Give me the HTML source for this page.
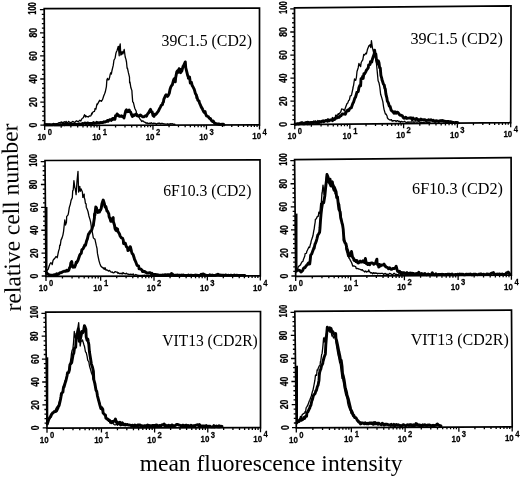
<!DOCTYPE html>
<html><head><meta charset="utf-8"><style>html,body{margin:0;padding:0;background:#fff;width:520px;height:477px;overflow:hidden}svg{display:block;will-change:transform}.s{font-family:"Liberation Sans",sans-serif}.r{font-family:"Liberation Serif",serif}</style></head><body>
<svg width="520" height="477" viewBox="0 0 520 477">
<rect width="520" height="477" fill="#fff"/>
<path d="M44.2 8.6L259.5 8.2L259.5 124.8L44.7 125.5Z" fill="none" stroke="#000" stroke-width="1.7" stroke-linejoin="miter"/>
<path d="M44.7 125.2h-4.3M44.68 120.58h-2.4M44.66 115.96h-2.4M44.64 111.34h-2.4M44.62 106.72h-2.4M44.6 102.1h-4.3M44.58 97.48h-2.4M44.56 92.86h-2.4M44.54 88.24h-2.4M44.52 83.62h-2.4M44.5 79h-4.3M44.48 74.38h-2.4M44.46 69.76h-2.4M44.44 65.14h-2.4M44.42 60.52h-2.4M44.4 55.9h-4.3M44.38 51.28h-2.4M44.36 46.66h-2.4M44.34 42.04h-2.4M44.32 37.42h-2.4M44.3 32.8h-4.3M44.28 28.18h-2.4M44.26 23.56h-2.4M44.24 18.94h-2.4M44.22 14.32h-2.4M44.2 9.7h-4.3M44.7 125.5v4.6M61.19 125.45v2.2M70.83 125.41v2.2M77.68 125.39v2.2M82.99 125.38v2.2M87.32 125.36v2.2M90.99 125.35v2.2M94.17 125.34v2.2M96.97 125.33v2.2M99.47 125.32v4.6M115.57 125.27v2.2M124.99 125.24v2.2M131.68 125.22v2.2M136.86 125.2v2.2M141.09 125.19v2.2M144.67 125.17v2.2M147.78 125.16v2.2M150.51 125.16v2.2M152.96 125.15v4.6M169.06 125.09v2.2M178.48 125.06v2.2M185.16 125.04v2.2M190.34 125.03v2.2M194.58 125.01v2.2M198.16 125v2.2M201.26 124.99v2.2M204 124.98v2.2M206.44 124.97v4.6M222.42 124.92v2.2M231.76 124.89v2.2M238.39 124.87v2.2M243.53 124.85v2.2M247.73 124.84v2.2M251.28 124.83v2.2M254.36 124.82v2.2M257.07 124.81v2.2M259.5 124.8v4.6" stroke="#000" stroke-width="1.3" fill="none"/>
<text transform="translate(33.1 125.2) rotate(-90) scale(0.8 1)" x="0" y="3.87" class="s" font-size="10.8" font-weight="bold" stroke="#000" stroke-width="0.25" text-anchor="middle">0</text>
<text transform="translate(33 102.1) rotate(-90) scale(0.8 1)" x="0" y="3.87" class="s" font-size="10.8" font-weight="bold" stroke="#000" stroke-width="0.25" text-anchor="middle">20</text>
<text transform="translate(32.9 79) rotate(-90) scale(0.8 1)" x="0" y="3.87" class="s" font-size="10.8" font-weight="bold" stroke="#000" stroke-width="0.25" text-anchor="middle">40</text>
<text transform="translate(32.8 55.9) rotate(-90) scale(0.8 1)" x="0" y="3.87" class="s" font-size="10.8" font-weight="bold" stroke="#000" stroke-width="0.25" text-anchor="middle">60</text>
<text transform="translate(32.7 32.8) rotate(-90) scale(0.8 1)" x="0" y="3.87" class="s" font-size="10.8" font-weight="bold" stroke="#000" stroke-width="0.25" text-anchor="middle">80</text>
<text transform="translate(32.6 8.5) rotate(-90) scale(0.7 1)" x="0" y="3.87" class="s" font-size="10.8" font-weight="bold" stroke="#000" stroke-width="0.25" text-anchor="middle">100</text>
<text transform="translate(46.3 140.1) scale(0.84 1)" class="s" font-size="9.5" font-weight="bold" stroke="#000" stroke-width="0.25" text-anchor="end">10</text>
<text transform="translate(47.7 135.2) scale(0.84 1)" class="s" font-size="9.1" font-weight="bold" stroke="#000" stroke-width="0.25">0</text>
<text transform="translate(101.07 139.92) scale(0.84 1)" class="s" font-size="9.5" font-weight="bold" stroke="#000" stroke-width="0.25" text-anchor="end">10</text>
<text transform="translate(102.87 135.02) scale(0.84 1)" class="s" font-size="9.1" font-weight="bold" stroke="#000" stroke-width="0.25">1</text>
<text transform="translate(154.56 139.75) scale(0.84 1)" class="s" font-size="9.5" font-weight="bold" stroke="#000" stroke-width="0.25" text-anchor="end">10</text>
<text transform="translate(155.96 134.85) scale(0.84 1)" class="s" font-size="9.1" font-weight="bold" stroke="#000" stroke-width="0.25">2</text>
<text transform="translate(208.04 139.57) scale(0.84 1)" class="s" font-size="9.5" font-weight="bold" stroke="#000" stroke-width="0.25" text-anchor="end">10</text>
<text transform="translate(209.44 134.67) scale(0.84 1)" class="s" font-size="9.1" font-weight="bold" stroke="#000" stroke-width="0.25">3</text>
<text transform="translate(261.1 139.4) scale(0.84 1)" class="s" font-size="9.5" font-weight="bold" stroke="#000" stroke-width="0.25" text-anchor="end">10</text>
<text transform="translate(262.5 134.5) scale(0.84 1)" class="s" font-size="9.1" font-weight="bold" stroke="#000" stroke-width="0.25">4</text>
<path d="M45 124.3 45.85 123.86 46.7 124 47.55 123.97 48.4 124.37 49.25 124.16 50.1 124.3 50.95 124.57 51.8 124.57 52.65 124.41 53.5 124.04 54.35 123.91 55 124.2 56.05 123.61 56.9 123.6 57.75 123.52 58.6 122.89 59.45 122.59 60.3 123.09 61.15 121.92 62 122.44 63 122.3 63.51 122.52 64.41 121.68 65.41 122.62 66.1 121.39 66.98 122.79 67.71 122.57 68.63 121.35 69.4 122.11 70 122.2 70.42 122.99 71.59 122.21 72.09 121.83 73.02 121.46 73.95 122.08 74.84 122.36 75.7 121.6 76.26 120.73 77.64 121.33 78.39 121.62 78.97 120.98 79.9 120.14 80.8 121 81.39 119.76 82.1 118.48 83.3 117.8 84.37 115.02 84.6 114.7 85.18 116.16 85.5 117 85.81 115.69 86.44 116.5 87.8 116.6 88.19 116.99 89.32 115.89 90 116.2 90.92 115.78 91.76 113.22 92.2 114 92.37 112.59 93.55 111.69 94.39 111.44 94.8 110.2 94.93 108.75 95.9 109.19 97 103.83 97.3 104.5 97.38 104.57 98.37 102.62 99.6 100.29 99.8 100.7 99.91 101.02 101.02 100.58 101.5 101.3 101.76 100.71 102.55 99.58 103.6 96.3 104.5 94.1 105.27 92.07 106.4 86.6 106.88 79.8 107.6 78.4 107.86 79.95 108.96 79.59 109.5 77.8 110.23 74.12 110.8 72.7 111.33 74.03 112 70.47 113.3 65.2 113.93 60.24 115.02 58.22 115.2 57.6 115.8 53.9 116.31 51.95 117 50.7 118.3 46.3 119.2 55.8 119.53 47.09 120.2 43.8 120.8 55 121.77 54.47 122.1 51.4 123 53.8 124.2 49.5 125.2 57 125.91 59.11 126.5 62 127.1 68.3 127.41 67.9 128.4 72.7 129.49 77.09 129.6 82.8 129.95 81.85 130.9 87.8 131.9 90.62 132.1 94.1 132.7 101.9 133.41 102.59 134.54 107.35 135 108.8 136.21 111.27 136.47 112.99 137.9 115.2 138.48 115.57 139.01 117.28 140.4 119.76 140.8 119.8 141.69 121.47 142.48 120.84 143.73 121.38 144.2 122.1 145.3 122.27 146.15 123.33 147 122.67 147.85 123.52 148.8 123.3 149.55 123.22 150.4 123.36 151.25 122.75 152.1 123.46 152.95 123.73 153.8 123.05 154.65 123.33 155.5 123.28 156.35 124.42 156.9 123.8 157.2 123.34 158.05 123.46 158.9 123.21 159.75 123.24 160.6 123.89 161.45 123.34 162.3 123.31 163.15 123.76 164 123.93 165 124 165.7 124.04 166.55 124.1 167.4 123.77 168.25 124.5 169.1 123.84 169.95 124.23 170.8 123.64 171.65 123.9 172.5 123.66 173.35 124.25 174.2 124.06 175 124.3" fill="none" stroke="#000" stroke-width="1.3" stroke-linejoin="round" stroke-linecap="round"/>
<path d="M45 124.8 45.85 124.81 46.7 124.89 47.55 124.89 48.4 124.64 49.25 124.71 50.1 124.63 50.95 124.88 51.8 124.78 52.65 124.87 53.5 124.3 54.35 124.87 55.2 124.77 56.05 124.86 56.9 124.76 57.75 124.68 58.6 124.85 59.45 124.85 60 124.8 60.3 124.73 61.15 124.71 62 124.84 62.85 124.42 63.7 124.17 64.55 124.76 65.4 124.38 66.25 124.04 67.1 124.27 67.95 124.35 68.8 124.07 69.65 123.93 70.5 124.43 71.35 124.7 72.2 124.27 73.05 124.06 73.9 124.43 74.75 124.52 75.6 124.12 76.45 124.4 77.3 124.56 78.15 124.06 79 123.8 79.85 124.21 80.7 124.14 81.55 124.44 82 124 82.4 123.45 83.25 123.58 84.1 123.4 84.95 122.97 85.8 123.58 86.65 123.65 87.5 122.99 88.4 123.2 89.2 123.81 90.05 123.56 90.9 123.48 91.75 123.38 92.6 123.62 93.45 122.61 94.3 123.47 95 123.2 96 123.37 96.85 122.29 97.7 123.09 98.55 122.73 99.4 123.13 100.25 122.47 101 122.6 101.95 122.47 102.8 122.54 103.72 121.83 104.17 122.11 105 122.1 105.13 121.59 105.86 121.62 107.21 121.07 107.5 120.4 108.15 121.24 108.62 120.58 109.6 119.8 110.78 119.63 111.19 120.37 112.02 119.83 112.68 118.34 113.78 118.41 114.2 119.2 114.94 119.33 115.58 115.61 116.53 115.81 117.1 114 118.4 115.33 119.04 116.08 119.4 116.3 119.76 116.05 120.93 116.3 121.5 115.8 122.02 116.48 122.96 116.38 124 118 124.65 115.28 125.8 110.6 126.5 109.82 127.5 111.7 128.56 111.38 129.2 110 129.76 111.66 130.56 112.08 131.5 114.6 132.36 116.4 133.13 115.09 133.8 115.8 134.35 114.8 135.2 114.5 136.1 114 136.54 115.43 137.58 115.93 138.4 115.8 139.08 116.18 140.24 114.96 141.34 115.74 141.9 116.3 142.45 116.7 143.73 116.91 144.43 116.22 145.51 115.75 146.36 115.46 146.5 116.3 146.84 115.4 147.67 113.8 148.5 113 149.47 111.14 150.6 109.4 151.1 111.73 152.17 111.95 153.04 115.56 153.4 115.2 153.96 116.34 154.86 114.2 155.5 114.6 156.39 113.79 157.21 112.68 158.39 111.17 159.2 109.4 160 107.8 160.63 106.59 161.21 105.41 162.5 104.46 162.7 103.1 163.43 101.93 163.8 99.4 164.71 97.41 165.59 95.4 166.1 94.8 166.81 95.8 167.5 96.4 168.42 95.06 169.3 93.14 170 89.5 170.85 86.89 171.69 85.41 172.3 84.9 173.49 80.27 173.8 79.5 174.2 78.85 175.3 81.8 175.63 77.87 176.8 71.8 177.51 70.77 178.53 72.27 179.1 68.8 180.1 72.07 180.7 72.6 180.75 69.47 181.79 71.19 183 66.5 183.55 65.84 184.41 63.84 185.3 61.9 185.76 67.74 186.8 71.8 187.77 75.86 188.3 76.4 188.33 78.29 189.53 77.08 189.9 79.5 190.29 83.06 191.35 82.2 192.2 85.6 192.75 86.37 194.01 88.82 194.5 90.2 195.41 93.62 196.47 95.37 196.8 97.9 196.86 96.58 197.9 100.49 199 100.9 199.4 102.76 200.35 104.8 201.3 107.1 202.42 108.87 202.77 109.78 203.92 112.13 204.4 112.4 205.07 111.66 205.58 113.8 206.41 115.81 207.5 116.3 208.25 116.54 209.16 118.14 210.19 118.84 210.5 118.6 211.33 120.47 212.71 121.58 212.8 121.6 213.37 121.1 214.15 122.68 215 123.45 215.85 123.55 216.7 123.9 217.55 123.86 218.4 124.33 219.25 123.99 220 124.5 220.95 124.33 221.8 124.32 222.65 124.32 223.5 124.32 224 124.9" fill="none" stroke="#000" stroke-width="2.9" stroke-linejoin="round" stroke-linecap="round"/>
<text transform="translate(161.51 46.2) scale(0.942 1)" class="r" font-size="16.8">39C1.5 (CD2)</text>
<path d="M294.5 7.8L511 5.8L510.7 122.6L294.8 124.6Z" fill="none" stroke="#000" stroke-width="1.7" stroke-linejoin="miter"/>
<path d="M294.8 124.3h-4.3M294.79 119.68h-2.4M294.78 115.07h-2.4M294.76 110.45h-2.4M294.75 105.84h-2.4M294.74 101.22h-4.3M294.73 96.6h-2.4M294.72 91.99h-2.4M294.7 87.37h-2.4M294.69 82.76h-2.4M294.68 78.14h-4.3M294.67 73.52h-2.4M294.66 68.91h-2.4M294.64 64.29h-2.4M294.63 59.68h-2.4M294.62 55.06h-4.3M294.61 50.44h-2.4M294.6 45.83h-2.4M294.58 41.21h-2.4M294.57 36.6h-2.4M294.56 31.98h-4.3M294.55 27.36h-2.4M294.54 22.75h-2.4M294.52 18.13h-2.4M294.51 13.52h-2.4M294.5 8.9h-4.3M294.8 124.6v4.6M311.37 124.45v2.2M321.07 124.36v2.2M327.95 124.29v2.2M333.28 124.24v2.2M337.64 124.2v2.2M341.33 124.17v2.2M344.52 124.14v2.2M347.34 124.11v2.2M349.85 124.09v4.6M366.04 123.94v2.2M375.5 123.85v2.2M382.22 123.79v2.2M387.43 123.74v2.2M391.69 123.7v2.2M395.29 123.67v2.2M398.4 123.64v2.2M401.15 123.61v2.2M403.61 123.59v4.6M419.8 123.44v2.2M429.26 123.35v2.2M435.98 123.29v2.2M441.19 123.24v2.2M445.45 123.2v2.2M449.05 123.17v2.2M452.16 123.14v2.2M454.91 123.12v2.2M457.37 123.09v4.6M473.43 122.95v2.2M482.82 122.86v2.2M489.48 122.8v2.2M494.65 122.75v2.2M498.87 122.71v2.2M502.44 122.68v2.2M505.53 122.65v2.2M508.26 122.62v2.2M510.7 122.6v4.6" stroke="#000" stroke-width="1.3" fill="none"/>
<text transform="translate(283.2 124.3) rotate(-90) scale(0.8 1)" x="0" y="3.87" class="s" font-size="10.8" font-weight="bold" stroke="#000" stroke-width="0.25" text-anchor="middle">0</text>
<text transform="translate(283.14 101.22) rotate(-90) scale(0.8 1)" x="0" y="3.87" class="s" font-size="10.8" font-weight="bold" stroke="#000" stroke-width="0.25" text-anchor="middle">20</text>
<text transform="translate(283.08 78.14) rotate(-90) scale(0.8 1)" x="0" y="3.87" class="s" font-size="10.8" font-weight="bold" stroke="#000" stroke-width="0.25" text-anchor="middle">40</text>
<text transform="translate(283.02 55.06) rotate(-90) scale(0.8 1)" x="0" y="3.87" class="s" font-size="10.8" font-weight="bold" stroke="#000" stroke-width="0.25" text-anchor="middle">60</text>
<text transform="translate(282.96 31.98) rotate(-90) scale(0.8 1)" x="0" y="3.87" class="s" font-size="10.8" font-weight="bold" stroke="#000" stroke-width="0.25" text-anchor="middle">80</text>
<text transform="translate(282.9 7.7) rotate(-90) scale(0.7 1)" x="0" y="3.87" class="s" font-size="10.8" font-weight="bold" stroke="#000" stroke-width="0.25" text-anchor="middle">100</text>
<text transform="translate(296.4 139.2) scale(0.84 1)" class="s" font-size="9.5" font-weight="bold" stroke="#000" stroke-width="0.25" text-anchor="end">10</text>
<text transform="translate(297.8 134.3) scale(0.84 1)" class="s" font-size="9.1" font-weight="bold" stroke="#000" stroke-width="0.25">0</text>
<text transform="translate(351.45 138.69) scale(0.84 1)" class="s" font-size="9.5" font-weight="bold" stroke="#000" stroke-width="0.25" text-anchor="end">10</text>
<text transform="translate(353.25 133.79) scale(0.84 1)" class="s" font-size="9.1" font-weight="bold" stroke="#000" stroke-width="0.25">1</text>
<text transform="translate(405.21 138.19) scale(0.84 1)" class="s" font-size="9.5" font-weight="bold" stroke="#000" stroke-width="0.25" text-anchor="end">10</text>
<text transform="translate(406.61 133.29) scale(0.84 1)" class="s" font-size="9.1" font-weight="bold" stroke="#000" stroke-width="0.25">2</text>
<text transform="translate(458.97 137.69) scale(0.84 1)" class="s" font-size="9.5" font-weight="bold" stroke="#000" stroke-width="0.25" text-anchor="end">10</text>
<text transform="translate(460.37 132.79) scale(0.84 1)" class="s" font-size="9.1" font-weight="bold" stroke="#000" stroke-width="0.25">3</text>
<text transform="translate(512.3 137.2) scale(0.84 1)" class="s" font-size="9.5" font-weight="bold" stroke="#000" stroke-width="0.25" text-anchor="end">10</text>
<text transform="translate(513.7 132.3) scale(0.84 1)" class="s" font-size="9.1" font-weight="bold" stroke="#000" stroke-width="0.25">4</text>
<path d="M295 124 295.85 123.61 296.7 123.93 297.55 123.77 298.4 123.07 299.25 122.86 299.8 122.5 300.1 122.26 300.95 122.01 301.8 121.97 302.65 121.88 303.5 122.75 304.35 122.24 305.2 122.28 306.05 121.86 306.9 121.6 307.75 121.5 308.6 121.63 309.45 122.29 310.3 121.96 311.3 121.9 312 121.6 312.85 121.63 313.7 120.94 314.55 122.23 315.4 120.87 316.25 121.45 317.18 122.2 317.81 120.51 318.51 121.25 319.56 120.97 320.58 121.11 321.49 121.3 321.97 121.1 322.8 120.8 323.72 120.22 324.55 120.68 325.33 120.61 326.54 119.79 327.02 119.57 328 118.7 328.6 119.6 328.86 119.87 329.67 119.38 330.75 119.39 331.85 119.69 332.42 117.53 333.2 118.4 334 118.82 335.22 117.74 335.65 115.09 336.7 115.6 337.48 115.05 338.35 113.64 338.86 114.39 340.1 112.7 340.82 111.76 341.66 108.9 342.4 109.2 343.37 109.44 344.5 111 345.06 108.76 345.97 106.32 347 103.5 347.72 103.13 348.62 100.49 349.4 100 350.24 95.81 351.31 95.51 351.7 94.2 353.02 88.01 353.2 86.6 353.53 85.76 354.5 79 355.61 80.38 355.7 80.3 356.43 77.3 357 71.5 358.2 67.7 358.94 63.48 359.5 64.6 360.62 66.67 360.8 65.2 361.18 62.57 361.89 61.23 362.6 60.2 362.78 59.85 363.76 54.35 364.5 55.1 365.85 53.21 366.4 53.9 367.3 50.03 367.7 48.8 368.23 47.42 368.9 45.7 370.14 44.67 370.2 46.3 370.79 47.58 371.4 40.7 372.4 47.6 373.3 51.4 373.97 50.16 374.6 52.6 375.2 57.6 376.02 57.29 376.5 63.9 377.1 70.2 377.7 76.5 378.11 80.8 379 82.8 379.8 87 380.63 94.3 381.5 96.9 382.84 101.62 383.5 106.5 384.01 109.21 385.4 114.2 385.92 113.84 387.08 116.02 387.32 117.77 388.3 119 389.39 119.78 390.53 120 391.37 119.65 392.15 121.14 392.75 120.7 393.1 121 393.6 120.53 394.45 120.56 395.3 120.72 396.15 121.56 397 120.68 397.85 120.75 398.7 121.66 399.55 121.27 400.4 122.25 401.25 121.33 402.1 121.63 402.7 121.9 403.8 121.59 404.65 121.25 405.5 122.11 406.35 122.28 407.2 122.41 408.05 121.94 408.9 122.32 409.75 122 410.6 122.04 411.45 121.77 412.3 122.06 413.15 121.76 414 122.4 414.85 121.91 415.7 121.78 416.55 122.18 417.4 122.22 418.25 121.63 419.1 121.86 420 122.3 420.8 122.1 421.65 122.49 422.5 122.57 423.35 122.69 424.2 122.33 425.05 122.15 425.9 121.96 426.75 122.54 427.6 122.38 428.45 122.7 429.3 122.75 430 122.6" fill="none" stroke="#000" stroke-width="1.3" stroke-linejoin="round" stroke-linecap="round"/>
<path d="M295 124.3 295.85 123.99 296.7 123.98 297.55 123.61 298.4 123.97 299.25 123.92 300.1 123.6 300.95 123.52 301.8 123.35 302.65 123.56 303.5 123.85 304.35 123.7 305.2 123.64 306.05 122.76 306.9 122.69 307.75 123.78 308.6 123.49 309.45 123.67 310 123 310.3 123.45 311.15 122.48 312 123.32 312.85 122.97 313.7 122.72 314.55 122.2 315.4 122.46 316.25 122.31 317.1 122.68 317.95 122.26 318.8 122.83 319.65 121.68 320 122 320.5 122.12 321.35 121.98 322.2 121.17 323.05 120.85 323.94 121.78 324.54 121.03 325.7 120.6 326.11 120.47 327.59 121.16 328 120.5 329.06 120.82 330.07 120.08 330.79 120.06 331.65 119.89 332.55 120.64 333.31 119.06 334.4 119.6 335.24 118.31 335.46 118.63 336.54 117.55 337.55 117.75 338.03 116.74 339.12 117.3 340.1 116.1 341.08 115.64 341.6 114.79 342.55 113.84 343.63 114.07 344.51 113.8 345.35 114.3 345.9 112.7 346.59 111.39 347.58 110.12 348.68 110.83 349.47 109.01 350.5 108 351.33 107.86 352.29 104.88 352.8 103.5 353.51 102.33 354.79 98.09 355.5 97.25 356.4 94.1 356.89 92.34 358.25 91.62 358.9 87.8 359.78 85.42 360.62 85.73 360.8 82.8 361 78.71 362.2 78.47 362.6 76.5 363.13 78.43 363.92 73.61 364.5 74 365.74 71.88 366.4 70.2 367.31 69.11 368.3 67.7 368.64 64.9 369.89 64.59 370.2 63.9 370.43 61.63 371.76 62.02 372.1 60.2 373.3 56.4 374.18 54.07 374.6 50.1 375.07 53.36 375.8 53.9 376.5 60.2 377.7 64 378.32 60.83 379 62.7 379.6 67.7 380.3 68.11 380.9 75.3 381.84 78.74 382.1 80.3 382.46 80.97 383.4 84.1 384.3 85.18 384.7 87.8 385.31 89.19 385.9 94.1 386.91 98.16 387.31 101.02 388.3 102.7 389.29 106.19 390.11 106.38 391.2 110.4 391.57 110.65 393.06 111.84 393.67 112.74 394 113.3 394.78 112.68 395.1 111.86 396.02 113.26 396.9 112.3 397.68 112.32 398.39 113.08 399.49 114.68 400.06 115.2 400.8 115.2 401.52 115.49 402.39 115.8 402.99 117.15 404 118.2 404.6 118.1 405.72 117.18 406.09 118.22 406.87 118.46 408 118.1 408.82 118.16 410.1 117.77 410.68 118.33 411.58 117.96 412.24 119.66 413.16 117.94 413.87 119.15 414.89 119.32 415.55 119.49 416.33 118.5 417.11 119.13 418 119.6 419.22 120.26 419.78 119.85 420.78 119.07 421.48 119.85 422.84 119.66 423.19 120.03 424.48 119.66 424.93 119.61 425.78 120.26 426.41 120.46 427.7 120.4 428.45 119.68 429.3 120.4 430.15 120.28 431 119.77 431.85 120.26 432.7 120.82 433.55 120.36 434.4 121.35 435.25 121.48 436.1 120.62 437 120.8 437.8 121.11 438.65 121.65 439.5 120.83 440.35 120.63 441.2 120.91 442.05 120.55 442.9 120.63 443.75 121.36 444.6 121.16 445.45 121.49 446.3 121.65 447 121.5 448 121.34 448.85 121.69 449.7 121.79 450.55 121.77 451.4 121.84 452.25 122.37 453.1 122.34 453.95 122.53 454.6 122.6 455.65 122.51 456.5 122.5 457.35 122.47 458 122.8" fill="none" stroke="#000" stroke-width="2.9" stroke-linejoin="round" stroke-linecap="round"/>
<text transform="translate(410.44 43.6) scale(0.962 1)" class="r" font-size="16.8">39C1.5 (CD2)</text>
<path d="M45 160.5L260 159.8L260.3 275.9L46 276.3Z" fill="none" stroke="#000" stroke-width="1.7" stroke-linejoin="miter"/>
<path d="M46 276h-4.3M45.96 271.42h-2.4M45.92 266.85h-2.4M45.88 262.27h-2.4M45.84 257.7h-2.4M45.8 253.12h-4.3M45.76 248.54h-2.4M45.72 243.97h-2.4M45.68 239.39h-2.4M45.64 234.82h-2.4M45.6 230.24h-4.3M45.56 225.66h-2.4M45.52 221.09h-2.4M45.48 216.51h-2.4M45.44 211.94h-2.4M45.4 207.36h-4.3M45.36 202.78h-2.4M45.32 198.21h-2.4M45.28 193.63h-2.4M45.24 189.06h-2.4M45.2 184.48h-4.3M45.16 179.9h-2.4M45.12 175.33h-2.4M45.08 170.75h-2.4M45.04 166.18h-2.4M45 161.6h-4.3M46 276.3v4.6M62.45 276.27v2.2M72.07 276.25v2.2M78.9 276.24v2.2M84.2 276.23v2.2M88.52 276.22v2.2M92.18 276.21v2.2M95.35 276.21v2.2M98.15 276.2v2.2M100.65 276.2v4.6M116.71 276.17v2.2M126.11 276.15v2.2M132.77 276.14v2.2M137.94 276.13v2.2M142.17 276.12v2.2M145.74 276.11v2.2M148.84 276.11v2.2M151.57 276.1v2.2M154.01 276.1v4.6M170.07 276.07v2.2M179.47 276.05v2.2M186.13 276.04v2.2M191.3 276.03v2.2M195.53 276.02v2.2M199.1 276.01v2.2M202.2 276.01v2.2M204.93 276v2.2M207.37 276v4.6M223.3 275.97v2.2M232.62 275.95v2.2M239.24 275.94v2.2M244.37 275.93v2.2M248.56 275.92v2.2M252.1 275.92v2.2M255.17 275.91v2.2M257.88 275.9v2.2M260.3 275.9v4.6" stroke="#000" stroke-width="1.3" fill="none"/>
<text transform="translate(34.4 276) rotate(-90) scale(0.8 1)" x="0" y="3.87" class="s" font-size="10.8" font-weight="bold" stroke="#000" stroke-width="0.25" text-anchor="middle">0</text>
<text transform="translate(34.2 253.12) rotate(-90) scale(0.8 1)" x="0" y="3.87" class="s" font-size="10.8" font-weight="bold" stroke="#000" stroke-width="0.25" text-anchor="middle">20</text>
<text transform="translate(34 230.24) rotate(-90) scale(0.8 1)" x="0" y="3.87" class="s" font-size="10.8" font-weight="bold" stroke="#000" stroke-width="0.25" text-anchor="middle">40</text>
<text transform="translate(33.8 207.36) rotate(-90) scale(0.8 1)" x="0" y="3.87" class="s" font-size="10.8" font-weight="bold" stroke="#000" stroke-width="0.25" text-anchor="middle">60</text>
<text transform="translate(33.6 184.48) rotate(-90) scale(0.8 1)" x="0" y="3.87" class="s" font-size="10.8" font-weight="bold" stroke="#000" stroke-width="0.25" text-anchor="middle">80</text>
<text transform="translate(33.4 160.4) rotate(-90) scale(0.7 1)" x="0" y="3.87" class="s" font-size="10.8" font-weight="bold" stroke="#000" stroke-width="0.25" text-anchor="middle">100</text>
<text transform="translate(47.6 290.9) scale(0.84 1)" class="s" font-size="9.5" font-weight="bold" stroke="#000" stroke-width="0.25" text-anchor="end">10</text>
<text transform="translate(49 286) scale(0.84 1)" class="s" font-size="9.1" font-weight="bold" stroke="#000" stroke-width="0.25">0</text>
<text transform="translate(102.25 290.8) scale(0.84 1)" class="s" font-size="9.5" font-weight="bold" stroke="#000" stroke-width="0.25" text-anchor="end">10</text>
<text transform="translate(104.05 285.9) scale(0.84 1)" class="s" font-size="9.1" font-weight="bold" stroke="#000" stroke-width="0.25">1</text>
<text transform="translate(155.61 290.7) scale(0.84 1)" class="s" font-size="9.5" font-weight="bold" stroke="#000" stroke-width="0.25" text-anchor="end">10</text>
<text transform="translate(157.01 285.8) scale(0.84 1)" class="s" font-size="9.1" font-weight="bold" stroke="#000" stroke-width="0.25">2</text>
<text transform="translate(208.97 290.6) scale(0.84 1)" class="s" font-size="9.5" font-weight="bold" stroke="#000" stroke-width="0.25" text-anchor="end">10</text>
<text transform="translate(210.37 285.7) scale(0.84 1)" class="s" font-size="9.1" font-weight="bold" stroke="#000" stroke-width="0.25">3</text>
<text transform="translate(261.9 290.5) scale(0.84 1)" class="s" font-size="9.5" font-weight="bold" stroke="#000" stroke-width="0.25" text-anchor="end">10</text>
<text transform="translate(263.3 285.6) scale(0.84 1)" class="s" font-size="9.1" font-weight="bold" stroke="#000" stroke-width="0.25">4</text>
<path d="M46.5 272 47.1 270.3 48.15 269.33 49 266.5 49.96 263.88 50.9 262.8 51.86 263.56 52.2 264.7 53.03 260.46 54.1 259 55.06 257.95 56 256.5 56.8 257.2 57.2 257.7 57.47 256.56 58.5 251.4 59.44 248.39 59.7 245.2 60.27 245.37 61 240.1 62.07 237.86 62.9 235.1 63.57 231.37 64.1 226.3 64.8 220 65.5 225 66.38 222.6 66.6 219.1 66.64 216.6 68.05 214.87 68.5 212.8 69.32 207.36 70.4 204 71.07 200.36 72.3 197.7 72.71 190.62 73.2 190.2 73.9 180.7 74.8 187.6 75.23 188.48 76.1 194.6 77 181.4 78 171.3 78.6 192 79.8 186.4 80.26 191.3 81.1 188.9 82.4 192 82.82 197.38 84.18 194.1 84.3 197.7 84.87 199.45 85.36 203.04 86.1 204 86.28 207.15 87.51 210.11 88 211.5 88.92 215.97 89.9 219.1 90.66 222.08 91.2 226 91.5 228.9 92.4 232.6 93.35 237.91 94.3 238.9 94.92 239.19 95.68 242.68 96.2 245.2 97 248.41 97.47 253.4 98.1 256.5 99.08 261.07 100 264 100.81 266.02 101.9 267.2 102.56 267.45 103.39 268.58 104 267.8 104.22 269.26 105.26 267.82 105.86 270.11 106.76 269.94 107.7 270.4 108.46 271.1 109.45 270.4 110.49 271.5 111.02 272.02 111.9 272.24 112.3 271.9 112.81 272.68 113.6 272.84 114.43 272.39 115.23 271.57 116.43 272.02 117.32 272.16 117.99 273.53 118.5 272.7 119.71 273.73 120.52 273.58 120.97 273.13 122.15 274.03 123 272.46 123.85 273.56 124.6 273.5 125.55 273.95 126.4 273.13 127.25 274.09 128.1 274.01 128.95 274.6 129.8 274.4 130.8 274.2 131.5 274.33 132.35 274.6 133.2 273.93 134.05 275.4 134.9 275 135.75 274.52 136.6 274.83 137.45 275.25 138.5 275.5 139.15 275.33 140 275.52 140.85 275.35 141.7 275.52 142.55 275.46 143.4 275.52 144.25 275.23 145.1 275.44 145.95 275.51 146.8 275.43 147.65 275.51 148.5 275.51 149.35 275.34 150 275.8 151.05 275.5 151.9 275.44 152.75 275.5 153.6 275.5 154.45 275.5 155.3 275.5 156.15 275.49 157 275.49 157.85 275.49 158.7 275.49 159.55 275.49 160.4 275.49 161.25 275.48 162.1 275.48 162.95 275.48 163.8 275.48 164.65 275.48 165 276" fill="none" stroke="#000" stroke-width="1.3" stroke-linejoin="round" stroke-linecap="round"/>
<path d="M46.5 207V272.8" fill="none" stroke="#000" stroke-width="2.0"/>
<path d="M46.5 272.8 47.5 274 48.2 274.21 49.05 274.93 49.9 275.5 50.3 275.5 50.75 275.08 51.6 275.5 52.45 275.14 53.3 275.17 54.1 274.7 55 274.6 55.85 274.78 56.7 273.66 57.55 274.61 58.4 274.24 59.1 273.5 59.9 272.69 60.67 272.81 61.66 272.48 62.9 271.6 63.74 271.38 64.36 271.17 65.27 271.38 66.4 271.06 66.65 270.35 67.9 271 68.73 270.31 69.58 267.78 70.4 266.5 70.83 262.9 71.7 261.5 72.09 263.75 72.9 267.2 73.82 267.13 74.62 267.14 75.4 265.3 76.17 262.29 76.78 262.61 78 260.3 78.51 258.71 79.85 254.82 80.5 254 81.25 253.22 81.87 249.7 83 248.9 84.08 246.78 84.84 244.92 85.5 245.2 86.54 241.08 87.4 238.9 88.27 235.03 88.7 233.8 89.24 233.55 89.79 232.23 90.5 231.3 91.68 230.13 92.4 227.5 93.34 225.45 93.7 222.5 94.44 217.8 94.5 214 94.89 215.2 95.78 206.95 96.3 207.6 96.46 208.29 97.62 212.07 98 212.5 98.22 211.74 99.46 212.05 99.74 210.27 100.5 210.2 101.21 208.49 101.9 204 102.86 201.01 103.2 200 104.4 203.8 104.96 206.73 105.7 207.6 105.81 206.32 106.98 211.07 107.6 211.4 108.8 213.9 109.1 216.69 110.1 218.9 110.8 221.26 112 221.4 112.78 217.94 113.2 217.6 113.31 221.33 114.5 225.2 115.01 228.54 115.8 230.2 116.26 228.25 116.76 230.83 117.6 229 117.82 231.2 118.6 232.42 119.5 234 120.12 236 121.4 237.8 122.44 238.04 123.3 240.3 123.58 243.53 124.84 243.88 125.2 244.1 125.3 243.24 126.35 246.58 127.34 247.52 127.7 249 127.92 250.54 129.23 249.73 130.08 247.34 130.2 246.6 130.53 247.25 131.61 251.93 132.1 253.5 133.09 254.51 134.34 258.51 134.6 259.6 134.93 260.02 135.95 262.38 136.9 265 137.25 265.62 138.63 265.86 139.07 268.81 140 268.8 140.84 269.15 142.02 270.1 142.48 271.52 143.49 271.29 144.26 271.49 144.6 271.9 145.04 271.78 146.29 272.71 146.51 272.93 147.68 272.84 148.83 273.08 149.2 272.7 150.2 272.8 151.05 273.68 151.9 273.22 152.75 274.93 153.8 274.8 154.45 274.46 155.3 274.34 156.15 274.68 157 274.73 157.85 275.05 158.7 275.06 159.55 275.49 160.4 275.17 161.5 275.3 162.1 275.34 162.95 274.92 163.8 275.39 164.65 274.93 165.5 274.61 166.35 275.48 167.2 274.73 168.05 274.69 168.9 274.73 170 275 170.6 274.89 171.45 273.48 172 273.8 172.3 273.84 173.15 274.83 174 275.2 174.85 275.46 175.7 275.13 176.55 275.26 177.4 274.98 178.25 275.45 179.1 275.25 179.95 275.29 180.8 275.37 181.65 275.05 182.5 275.35 183.35 274.97 184.2 275.44 185 275.4 185.9 275.35 186.75 275.34 187.6 275.44 188.45 275 189.3 275.43 190.15 275.43 191 275.12 191.85 275.43 192.7 275.32 193.55 275.42 194.4 275.35 195.25 275.05 196.1 275.42 196.95 275.25 197.8 275.37 198.65 275.42 199.5 275.41 200 275.3 200.35 275.36 201.2 274.25 202.05 274.69 203 274 203.75 274.2 204.6 275.1 205.45 274.99 206 275.3 206.3 275.4 207.15 275.4 208 275.32 208.85 275.4 209.7 274.84 210.55 275.39 211.4 275.39 212.25 275.03 213.1 275.39 213.95 275.39 215 275.4 215.65 275.26 216.5 274.76 217.35 274.77 218 274.2 219.05 274.89 219.9 274.93 221 275.3 221.6 275.29 222.45 275.17 223.3 275.14 224.15 275.37 225 275.17 225.85 274.92 226.7 275.36 227.55 275.36 228.4 275.3 229.25 275.36 230.1 275.36 230.95 275.1 231.8 275.35 232.65 275.35 233.5 275.35 234.35 274.97 235.2 275.35 236.05 275.35 236.9 275.2 237.75 275.34 238.6 275.34 239.45 275.34 240 275.5 240.3 275.34 241.15 275.34 242 275.33 242.85 275.33 243.7 275.33 244.55 275.33 245 275.8" fill="none" stroke="#000" stroke-width="2.9" stroke-linejoin="round" stroke-linecap="round"/>
<text transform="translate(163.22 195.8) scale(0.937 1)" class="r" font-size="16.8">6F10.3 (CD2)</text>
<path d="M294.6 159.6L511.1 157.6L511.4 275.1L295.7 276.3Z" fill="none" stroke="#000" stroke-width="1.7" stroke-linejoin="miter"/>
<path d="M295.7 276h-4.3M295.66 271.39h-2.4M295.61 266.78h-2.4M295.57 262.16h-2.4M295.52 257.55h-2.4M295.48 252.94h-4.3M295.44 248.33h-2.4M295.39 243.72h-2.4M295.35 239.1h-2.4M295.3 234.49h-2.4M295.26 229.88h-4.3M295.22 225.27h-2.4M295.17 220.66h-2.4M295.13 216.04h-2.4M295.08 211.43h-2.4M295.04 206.82h-4.3M295 202.21h-2.4M294.95 197.6h-2.4M294.91 192.98h-2.4M294.86 188.37h-2.4M294.82 183.76h-4.3M294.78 179.15h-2.4M294.73 174.54h-2.4M294.69 169.92h-2.4M294.64 165.31h-2.4M294.6 160.7h-4.3M295.7 276.3v4.6M312.26 276.21v2.2M321.94 276.15v2.2M328.82 276.12v2.2M334.15 276.09v2.2M338.5 276.06v2.2M342.18 276.04v2.2M345.37 276.02v2.2M348.19 276.01v2.2M350.7 275.99v4.6M366.87 275.9v2.2M376.33 275.85v2.2M383.04 275.81v2.2M388.24 275.79v2.2M392.5 275.76v2.2M396.09 275.74v2.2M399.21 275.72v2.2M401.96 275.71v2.2M404.41 275.7v4.6M420.58 275.61v2.2M430.04 275.55v2.2M436.75 275.52v2.2M441.95 275.49v2.2M446.21 275.46v2.2M449.8 275.44v2.2M452.92 275.43v2.2M455.66 275.41v2.2M458.12 275.4v4.6M474.16 275.31v2.2M483.54 275.25v2.2M490.2 275.22v2.2M495.36 275.19v2.2M499.58 275.17v2.2M503.15 275.15v2.2M506.24 275.13v2.2M508.96 275.11v2.2M511.4 275.1v4.6" stroke="#000" stroke-width="1.3" fill="none"/>
<text transform="translate(284.1 276) rotate(-90) scale(0.8 1)" x="0" y="3.87" class="s" font-size="10.8" font-weight="bold" stroke="#000" stroke-width="0.25" text-anchor="middle">0</text>
<text transform="translate(283.88 252.94) rotate(-90) scale(0.8 1)" x="0" y="3.87" class="s" font-size="10.8" font-weight="bold" stroke="#000" stroke-width="0.25" text-anchor="middle">20</text>
<text transform="translate(283.66 229.88) rotate(-90) scale(0.8 1)" x="0" y="3.87" class="s" font-size="10.8" font-weight="bold" stroke="#000" stroke-width="0.25" text-anchor="middle">40</text>
<text transform="translate(283.44 206.82) rotate(-90) scale(0.8 1)" x="0" y="3.87" class="s" font-size="10.8" font-weight="bold" stroke="#000" stroke-width="0.25" text-anchor="middle">60</text>
<text transform="translate(283.22 183.76) rotate(-90) scale(0.8 1)" x="0" y="3.87" class="s" font-size="10.8" font-weight="bold" stroke="#000" stroke-width="0.25" text-anchor="middle">80</text>
<text transform="translate(283 159.5) rotate(-90) scale(0.7 1)" x="0" y="3.87" class="s" font-size="10.8" font-weight="bold" stroke="#000" stroke-width="0.25" text-anchor="middle">100</text>
<text transform="translate(297.3 290.9) scale(0.84 1)" class="s" font-size="9.5" font-weight="bold" stroke="#000" stroke-width="0.25" text-anchor="end">10</text>
<text transform="translate(298.7 286) scale(0.84 1)" class="s" font-size="9.1" font-weight="bold" stroke="#000" stroke-width="0.25">0</text>
<text transform="translate(352.3 290.59) scale(0.84 1)" class="s" font-size="9.5" font-weight="bold" stroke="#000" stroke-width="0.25" text-anchor="end">10</text>
<text transform="translate(354.1 285.69) scale(0.84 1)" class="s" font-size="9.1" font-weight="bold" stroke="#000" stroke-width="0.25">1</text>
<text transform="translate(406.01 290.3) scale(0.84 1)" class="s" font-size="9.5" font-weight="bold" stroke="#000" stroke-width="0.25" text-anchor="end">10</text>
<text transform="translate(407.41 285.4) scale(0.84 1)" class="s" font-size="9.1" font-weight="bold" stroke="#000" stroke-width="0.25">2</text>
<text transform="translate(459.72 290) scale(0.84 1)" class="s" font-size="9.5" font-weight="bold" stroke="#000" stroke-width="0.25" text-anchor="end">10</text>
<text transform="translate(461.12 285.1) scale(0.84 1)" class="s" font-size="9.1" font-weight="bold" stroke="#000" stroke-width="0.25">3</text>
<text transform="translate(513 289.7) scale(0.84 1)" class="s" font-size="9.5" font-weight="bold" stroke="#000" stroke-width="0.25" text-anchor="end">10</text>
<text transform="translate(514.4 284.8) scale(0.84 1)" class="s" font-size="9.1" font-weight="bold" stroke="#000" stroke-width="0.25">4</text>
<path d="M296 270 296.99 268.31 298 268 298.24 266.73 299.7 265.44 300.5 265 300.99 263.64 302.11 261.7 302.9 261.36 303.2 260.5 303.33 259.64 304.8 256 305.15 253.67 306.41 253.25 306.8 251.5 307.65 249.7 308.9 247 309.62 247.57 310.37 244.29 310.8 243.4 311.2 240.87 312.23 238.07 313 235.5 313.79 230.59 314.2 229 314.56 225.91 315.2 222 315.37 219.25 316.21 218.97 317.39 216.38 318.18 216.46 318.5 215 318.83 212.2 319.67 213.51 320.2 209 320.69 203.37 321.3 203 322 192.6 322.11 193.48 323 185.1 324.2 195 324.89 191.2 325.6 183.8 326.8 173.8 327.19 177.28 328 180 328.38 178.28 329.3 178.8 330.3 181.9 330.92 184.93 331.2 183.8 331.75 185.2 332.73 184.51 333 186 333.67 184.69 334.55 186.53 334.97 193.76 335.5 193 335.69 194.61 337.15 197.24 337.96 196.91 338 200 338.45 202.46 339.66 204.27 340 208 341.25 216.68 341.5 218 341.71 220.24 343 228 343.52 233.39 344.5 238 345.63 246.38 345.8 248 345.87 249.28 347 253 347.66 255.96 348.58 256.89 349.2 258.5 349.62 258.81 350.38 260.39 351.41 262.22 352.3 264.6 352.68 266.04 353.72 265.97 354.63 266.22 355.68 266.71 356.17 268.6 357 268.5 358.3 268.6 358.76 269.2 359.43 269.05 360.51 269.48 361.34 270.11 362.31 269.58 363 270.8 363.79 270.81 364.58 271.96 365.76 270.96 366.32 272.08 367.7 271.5 368.1 271.7 368.8 269.8 369.02 270.88 369.8 272 370.8 273 371.65 272.71 372.5 273.83 373.35 272.58 374.2 273.46 375.05 272.71 375.9 273.44 376.75 272.95 377.6 273.93 378.45 273.28 379.3 273.4 380 273.6 381 273.3 381.85 273.37 382.7 273.39 383.55 274.37 384.4 273.88 385.25 273.37 386.1 274.45 386.95 274.01 387.8 274.28 388.65 274.39 389.5 273.47 390.35 273.71 391.2 274.08 392.05 274.73 392.9 274.54 393.75 273.4 394.6 273.44 395.45 274.79 396.3 274.26 397.15 274.67 398 274.76 398.85 273.59 400 274.3 400.55 274.7 401.4 274.33 402.25 274.35 403.1 275.02 403.95 274.44 404.8 274.22 405.65 273.9 406.5 275.08 407.35 274.81 408.2 274.08 409.05 274.64 409.9 274.73 410.75 273.96 411.6 274.81 412.45 274.37 413.3 275.05 414.15 274.44 415 274.67 415.85 274.12 416.7 274.37 417.55 274.36 418.4 275.02 419.25 274.69 420 274.8" fill="none" stroke="#000" stroke-width="1.3" stroke-linejoin="round" stroke-linecap="round"/>
<path d="M296.5 213.6V271.1" fill="none" stroke="#000" stroke-width="2.0"/>
<path d="M296.5 271.1 297.54 269.86 298.5 270 299.28 270.45 299.79 270.37 300.9 272 301.67 271.47 302.7 270.5 303.39 268.59 304.4 267.57 304.5 267.5 304.95 267.68 306.18 265.72 306.5 265.5 307.24 264.88 308.4 263 309.01 263.53 309.7 264 310.16 260.59 310.6 256 310.72 254.93 311.69 253.96 312.4 252 313.78 248.22 314 247.6 314.11 248.57 314.95 244.19 315.6 243 316.4 240.79 317 238.5 317.8 235.13 318.6 234 319.6 232.31 320 228 320.5 220.3 321.03 214.11 321.8 207.7 322.68 202.12 323.7 202.7 324.8 196 325.6 188 326.5 180 327 174.5 328 177 329 182 329.84 183.62 330.1 179.3 330.54 185.35 331 186 331.09 185.15 332.3 181.8 332.96 186.02 333.6 188.8 334.13 190.33 334.44 187.52 335.9 191.24 336.1 191.9 336.7 197.6 337.46 196.89 338.1 202.7 338.93 209.42 339.4 210.3 340.07 211.88 340.7 217.8 341.82 222.15 341.9 222.8 342.49 224.55 343.2 229.1 343.8 237.7 343.82 239.86 345.05 242.85 345.94 243.75 346.7 247.3 347.24 249.2 348.41 252.9 348.7 253.8 348.94 256.09 350 256 350.96 253.73 351.5 251.5 352.5 257 353.71 258.54 353.8 260 354.45 260.46 355.33 260.2 356 261.5 356.95 260.57 357.85 262.92 358.5 263 359.63 261.71 360.15 261.09 360.9 262.07 362 262 363 260.79 363.88 261.77 364.5 262.5 365.4 258.5 366.3 263.5 367.22 263.08 367.7 264.6 369 263.34 369.78 264.77 370 263.5 370.28 263.45 371.4 262.93 372.3 263 373.2 263.5 373.8 264.27 375 263.5 375.61 263.16 376.34 260.48 376.9 259.2 377.03 262.53 377.8 265 378.42 264.56 378.5 266 378.71 267.02 379.53 264.48 380.45 265.94 381 265.5 381.54 264.93 382.48 265.02 383.36 265.02 384.07 264.14 384.6 265.4 385.1 265.56 385.6 266.63 386.54 267.12 387.5 267.5 388.55 268.76 388.98 268.13 389.71 267.8 390.8 269.2 391.96 269.18 392.66 268.4 393 268.5 393.63 268.43 394 268.6 395.3 268 396.2 266.2 396.48 267.83 397.2 270 397.52 271.26 398.5 271.5 399.56 271.32 400.44 272.89 401 272.5 401.97 272.71 402.75 272.76 403.6 272.7 404.6 273 405.3 273.16 406.15 273.59 407 272.54 407.85 273.75 409 273.5 409.55 273.14 410.4 273.02 411.25 273.36 412.1 273.23 412.95 273.32 413.8 273.8 414.65 273.84 415.5 273.66 416.35 274.26 417.2 273.26 418 273.9 418.8 272.3 419.8 274 420.6 274.32 421.45 273.56 422.3 274.11 423.15 273.93 424 274.44 424.85 273.6 425.7 274.13 426.55 274.72 427.4 274.62 428.25 274.05 429.1 274.46 429.95 274.59 430.8 274.39 431.5 274.2 432.3 272.8 433.3 274.3 434.2 274.77 435.05 274.73 435.9 273.8 436.75 274.65 437.6 274.91 438.45 274.34 439.3 274.39 440 274.5 441 274.54 441.85 274.25 442.7 274.41 443.55 274.48 444.4 274.87 445.25 274.44 446.1 274.71 446.95 274.45 447.8 274.2 448.65 274.29 449.5 274.14 450.35 274.84 451.2 274.43 452.05 274.02 452.9 274.51 453.75 274.82 454.6 274.61 455.45 274.5 456.3 274.61 457.15 274.38 458 274.17 458.85 274.79 459.7 273.96 460.55 274.33 461.4 274.21 462.25 274.44 463.1 274.26 463.95 274.76 464.8 274.76 465.65 274.56 466.5 274.09 467.35 274.27 468.2 274.39 469.05 274.21 470 274.5 470.75 274.09 471.6 274.72 472.45 274.72 473.3 274.15 474.15 274.17 475 274.48 475.85 274.23 476.7 274.63 477.55 274.69 478.4 274.44 479.25 274.1 480.1 274.3 480.95 273.85 481.8 274.26 482.65 274.66 483.5 274.18 484.35 274.59 485.2 274.65 486.05 274.64 486.9 273.88 487.75 274.26 488.6 274.13 489.45 274.62 490 274.3 490.3 274.53 491.15 273.28 492 273.01 492.85 272.96 493.4 272.5 493.7 273.6 494.55 273.8 495 274.5 495.4 274.59 496.25 274.21 497.1 274.07 497.95 274.57 498.8 274.18 499.65 273.9 500.5 274.56 501.35 274.56 502.2 273.94 503.05 274.55 503.9 274.47 505 274.3 505.6 274.12 506.45 272.93 507.3 272.63 507.8 272.5 508.15 272.09 509 272.96 510 274.5" fill="none" stroke="#000" stroke-width="2.9" stroke-linejoin="round" stroke-linecap="round"/>
<text transform="translate(412.05 194) scale(0.964 1)" class="r" font-size="16.8">6F10.3 (CD2)</text>
<path d="M45.7 312.2L260.5 311.5L260.5 427.7L47 428.1Z" fill="none" stroke="#000" stroke-width="1.7" stroke-linejoin="miter"/>
<path d="M47 427.8h-4.3M46.95 423.22h-2.4M46.9 418.64h-2.4M46.84 414.06h-2.4M46.79 409.48h-2.4M46.74 404.9h-4.3M46.69 400.32h-2.4M46.64 395.74h-2.4M46.58 391.16h-2.4M46.53 386.58h-2.4M46.48 382h-4.3M46.43 377.42h-2.4M46.38 372.84h-2.4M46.32 368.26h-2.4M46.27 363.68h-2.4M46.22 359.1h-4.3M46.17 354.52h-2.4M46.12 349.94h-2.4M46.06 345.36h-2.4M46.01 340.78h-2.4M45.96 336.2h-4.3M45.91 331.62h-2.4M45.86 327.04h-2.4M45.8 322.46h-2.4M45.75 317.88h-2.4M45.7 313.3h-4.3M47 428.1v4.6M63.39 428.07v2.2M72.98 428.05v2.2M79.78 428.04v2.2M85.05 428.03v2.2M89.36 428.02v2.2M93.01 428.01v2.2M96.17 428.01v2.2M98.95 428v2.2M101.44 428v4.6M117.45 427.97v2.2M126.81 427.95v2.2M133.45 427.94v2.2M138.6 427.93v2.2M142.81 427.92v2.2M146.37 427.91v2.2M149.45 427.91v2.2M152.17 427.9v2.2M154.6 427.9v4.6M170.61 427.87v2.2M179.97 427.85v2.2M186.61 427.84v2.2M191.76 427.83v2.2M195.97 427.82v2.2M199.53 427.81v2.2M202.61 427.81v2.2M205.33 427.8v2.2M207.77 427.8v4.6M223.64 427.77v2.2M232.93 427.75v2.2M239.51 427.74v2.2M244.63 427.73v2.2M248.8 427.72v2.2M252.33 427.72v2.2M255.39 427.71v2.2M258.09 427.7v2.2M260.5 427.7v4.6" stroke="#000" stroke-width="1.3" fill="none"/>
<text transform="translate(35.4 427.8) rotate(-90) scale(0.8 1)" x="0" y="3.87" class="s" font-size="10.8" font-weight="bold" stroke="#000" stroke-width="0.25" text-anchor="middle">0</text>
<text transform="translate(35.14 404.9) rotate(-90) scale(0.8 1)" x="0" y="3.87" class="s" font-size="10.8" font-weight="bold" stroke="#000" stroke-width="0.25" text-anchor="middle">20</text>
<text transform="translate(34.88 382) rotate(-90) scale(0.8 1)" x="0" y="3.87" class="s" font-size="10.8" font-weight="bold" stroke="#000" stroke-width="0.25" text-anchor="middle">40</text>
<text transform="translate(34.62 359.1) rotate(-90) scale(0.8 1)" x="0" y="3.87" class="s" font-size="10.8" font-weight="bold" stroke="#000" stroke-width="0.25" text-anchor="middle">60</text>
<text transform="translate(34.36 336.2) rotate(-90) scale(0.8 1)" x="0" y="3.87" class="s" font-size="10.8" font-weight="bold" stroke="#000" stroke-width="0.25" text-anchor="middle">80</text>
<text transform="translate(34.1 312.1) rotate(-90) scale(0.7 1)" x="0" y="3.87" class="s" font-size="10.8" font-weight="bold" stroke="#000" stroke-width="0.25" text-anchor="middle">100</text>
<text transform="translate(48.6 442.7) scale(0.84 1)" class="s" font-size="9.5" font-weight="bold" stroke="#000" stroke-width="0.25" text-anchor="end">10</text>
<text transform="translate(50 437.8) scale(0.84 1)" class="s" font-size="9.1" font-weight="bold" stroke="#000" stroke-width="0.25">0</text>
<text transform="translate(103.04 442.6) scale(0.84 1)" class="s" font-size="9.5" font-weight="bold" stroke="#000" stroke-width="0.25" text-anchor="end">10</text>
<text transform="translate(104.84 437.7) scale(0.84 1)" class="s" font-size="9.1" font-weight="bold" stroke="#000" stroke-width="0.25">1</text>
<text transform="translate(156.2 442.5) scale(0.84 1)" class="s" font-size="9.5" font-weight="bold" stroke="#000" stroke-width="0.25" text-anchor="end">10</text>
<text transform="translate(157.6 437.6) scale(0.84 1)" class="s" font-size="9.1" font-weight="bold" stroke="#000" stroke-width="0.25">2</text>
<text transform="translate(209.37 442.4) scale(0.84 1)" class="s" font-size="9.5" font-weight="bold" stroke="#000" stroke-width="0.25" text-anchor="end">10</text>
<text transform="translate(210.77 437.5) scale(0.84 1)" class="s" font-size="9.1" font-weight="bold" stroke="#000" stroke-width="0.25">3</text>
<text transform="translate(262.1 442.3) scale(0.84 1)" class="s" font-size="9.5" font-weight="bold" stroke="#000" stroke-width="0.25" text-anchor="end">10</text>
<text transform="translate(263.5 437.4) scale(0.84 1)" class="s" font-size="9.1" font-weight="bold" stroke="#000" stroke-width="0.25">4</text>
<path d="M47.2 423 48 420 49.13 419.49 50 418 50.93 417.4 51.55 416.61 52 414 52.34 414.28 52.99 413.29 53.93 410.96 55 411.5 55.44 409.65 56.89 406.92 57.5 407 58.52 404.55 59.17 402.27 60 400 60.71 396.63 61.34 396.57 62.5 392 63.17 386.15 64.5 384 64.93 380.82 65.88 379.64 66.5 377 67.34 374.49 68.5 371 69.44 366.27 70 364.3 71.1 357 71.53 353.13 72.2 350 72.78 349.54 73.5 343 74.3 331.5 75.3 338 76.07 335.95 76.8 335 78 327 78.7 322.7 79.3 333 80.2 346 81 341 82.3 341 82.5 340 82.91 341.42 84 345 84.49 346.44 85.5 352 86.21 352.57 87.11 356.36 87.5 359 87.78 360.26 88.79 361.64 89.5 366 90.55 369.54 91.5 373 92.5 375.51 92.91 378.93 93.5 380 94.29 380.21 94.59 385.73 95.5 388 96.41 391.45 97.5 396 98.15 399.56 99.04 402.27 99.5 404 99.86 403.03 100.46 406.02 101.3 409.18 102 410 102.55 411.15 103.43 413.03 104.4 414.1 105 416 105.63 416.52 106.91 419.87 107.89 420.49 108 420.5 108.34 421.34 109.57 421.29 109.86 422.88 110.64 421.62 111.81 423.06 112.97 423.02 113 423.5 113.38 423.55 114.09 424.49 114.9 424.88 116.09 424.67 116.89 423.64 117.41 425.27 118.68 423.98 119.18 424.36 120 425 120.3 425.86 121.15 425.14 122 425.68 122.85 424.77 123.7 425.68 124.55 425.55 125.4 425.8 126.25 424.98 127.1 425.27 127.95 424.96 128.8 424.67 129.65 424.89 130.5 425.45 131.35 425.36 132.2 425.16 133.05 425.27 133.9 426.13 134.75 425.99 135.6 426.18 136.45 426.05 137.3 425.89 138.15 426.38 139 425.96 140 426 140.7 425.92 141.55 426.14 142.4 426.39 143.25 425.7 144.1 425.97 144.95 425.65 145.8 426.22 146.65 426.06 147.5 426.83 148.35 425.76 149.2 426.25 150.05 426.94 150.9 426.96 151.75 425.61 152.6 426.51 153.45 425.68 154.3 426.02 155.15 426.63 156 426.61 156.85 427.09 157.7 426.28 158.55 426.72 159.4 426.76 160 426.5" fill="none" stroke="#000" stroke-width="1.3" stroke-linejoin="round" stroke-linecap="round"/>
<path d="M47.3 357.3V424" fill="none" stroke="#000" stroke-width="2.0"/>
<path d="M47.3 424 48 421.8 48.86 419.13 50 417.3 50.51 416.32 51.35 414.69 52.56 412.97 53 412.8 54.09 411.94 55.15 411.57 56.1 411.3 56.82 410.46 57.84 408.24 58.3 406.8 59.14 405.46 60.11 401.22 60.6 399 60.97 396.8 61.44 393.54 62.9 392 63.35 388.16 64.07 386.74 65.1 383 65.9 380.78 67 376 67.59 372.62 68.65 372.63 69.5 369.5 69.92 364.74 71.01 363.47 71.5 362 71.68 362.78 73 355 73.79 353.24 74.5 348 75.69 347.21 76 341 76.8 334 77.3 333.7 78.2 329 79.03 332.68 79.2 337 79.29 341.35 80.2 340 81.5 333.7 81.82 331.58 82.67 332.82 83.6 330.6 84.41 325.61 85.2 327.4 85.88 329.25 86.2 336.9 87.12 340.31 87.8 339 88.27 341.7 88.8 344.2 89.4 351.5 89.75 353.79 90.4 357.8 91.4 364.1 92.5 367.3 93.41 371.36 93.8 379.6 94.84 383.34 96 390.2 96.76 391.39 97.4 395.58 98.3 399.2 99.5 403.66 99.72 404.55 100.88 408.64 101.3 408.3 101.65 407.47 102.78 409.23 103.08 412.89 104.3 414.3 105.44 414.92 105.87 418.09 106.86 418.58 107.3 418.8 107.43 418.8 108.26 419.6 109.55 420.2 110.39 421.87 111.1 422.6 111.61 421.82 112.44 421.42 113.5 421.5 114.33 421.24 115.4 419 116.06 421.16 116.5 422.5 116.71 422.84 117.56 422.24 118.45 423.19 119.37 424.06 120.06 422.35 121.13 423.91 122.38 422.88 123 423.8 123.56 424.1 124.42 424.61 125.29 424.29 126.59 424.75 127.41 424.48 128.07 424.84 128.9 425.1 129.75 425.05 130.8 425.4 131.45 425.93 132.3 425.25 133.15 425.48 134 426.21 134.85 425.06 135.7 425.52 136.55 425.66 137.4 425.16 138.25 424.86 139.1 425.09 139.95 424.86 140.8 425.61 141.65 425.58 142.5 425.99 143.35 426.38 144.2 425.76 145.05 425.79 145.9 425.95 146.75 425.49 147.6 425.04 148.45 425.39 149.3 425.86 150 425.8 151 425.76 151.85 425.76 152.7 425.41 153.55 425.71 154.4 425.5 155.25 425.56 156.1 424.97 156.95 425.16 157.8 425.56 158.65 426.27 159.5 425.55 160 425.5 160.35 425.68 161.2 425.87 161.85 424.96 163 424.5 164.05 424.03 164.6 425.82 165.45 425.06 166 425.8 166.3 425.62 167.15 425.68 168 425.85 168.85 425.22 169.7 426.1 170.55 425.97 171.4 425.18 172.25 424.95 173.1 425.93 173.95 425.68 175 425.6 175.65 425.39 176.5 424.33 177.63 424.35 178 424.6 179.05 425.13 179.9 425.29 181 425.8 181.6 426.24 182.45 425.24 183.3 425.2 184.15 425.75 185 426.36 185.85 425.16 186.7 425.1 187.55 426.5 188.4 425.44 189.25 425.84 190.1 426.44 190.95 425.3 191.8 425.83 192.65 426.02 193.5 425.71 194.35 425.63 195 425.8 196.05 425.1 196.9 424.94 198 424.8 198.6 425.57 199.45 424.64 200.3 425.9 201 426 202 425.99 202.85 426.04 203.7 426.06 204.55 426.04 205.4 426.35 206.25 425.44 207.1 426.44 207.95 426.43 208.8 426.17 209.65 426.12 210.5 426.58 211.35 426.84 212.2 426.86 213.05 426.81 213.9 425.61 214.75 426.9 215.6 426.32 216.45 426.03 217.3 426.44 218.15 426.84 219 425.72 219.85 426.68 220.7 426.16 221.55 426.44 222 426.4" fill="none" stroke="#000" stroke-width="2.9" stroke-linejoin="round" stroke-linecap="round"/>
<text transform="translate(162.24 346.3) scale(0.927 1)" class="r" font-size="16.8">VIT13 (CD2R)</text>
<path d="M294.8 311.3L511.5 310.2L512.2 426.8L296.3 427.9Z" fill="none" stroke="#000" stroke-width="1.7" stroke-linejoin="miter"/>
<path d="M296.3 427.6h-4.3M296.24 422.99h-2.4M296.18 418.38h-2.4M296.12 413.78h-2.4M296.06 409.17h-2.4M296 404.56h-4.3M295.94 399.95h-2.4M295.88 395.34h-2.4M295.82 390.74h-2.4M295.76 386.13h-2.4M295.7 381.52h-4.3M295.64 376.91h-2.4M295.58 372.3h-2.4M295.52 367.7h-2.4M295.46 363.09h-2.4M295.4 358.48h-4.3M295.34 353.87h-2.4M295.28 349.26h-2.4M295.22 344.66h-2.4M295.16 340.05h-2.4M295.1 335.44h-4.3M295.04 330.83h-2.4M294.98 326.22h-2.4M294.92 321.62h-2.4M294.86 317.01h-2.4M294.8 312.4h-4.3M296.3 427.9v4.6M312.87 427.82v2.2M322.57 427.77v2.2M329.45 427.73v2.2M334.78 427.7v2.2M339.14 427.68v2.2M342.83 427.66v2.2M346.02 427.65v2.2M348.84 427.63v2.2M351.35 427.62v4.6M367.54 427.54v2.2M377 427.49v2.2M383.72 427.45v2.2M388.93 427.43v2.2M393.19 427.41v2.2M396.79 427.39v2.2M399.9 427.37v2.2M402.65 427.36v2.2M405.11 427.35v4.6M421.3 427.26v2.2M430.76 427.21v2.2M437.48 427.18v2.2M442.69 427.15v2.2M446.95 427.13v2.2M450.55 427.11v2.2M453.66 427.1v2.2M456.41 427.08v2.2M458.87 427.07v4.6M474.93 426.99v2.2M484.32 426.94v2.2M490.98 426.91v2.2M496.15 426.88v2.2M500.37 426.86v2.2M503.94 426.84v2.2M507.03 426.83v2.2M509.76 426.81v2.2M512.2 426.8v4.6" stroke="#000" stroke-width="1.3" fill="none"/>
<text transform="translate(284.7 427.6) rotate(-90) scale(0.8 1)" x="0" y="3.87" class="s" font-size="10.8" font-weight="bold" stroke="#000" stroke-width="0.25" text-anchor="middle">0</text>
<text transform="translate(284.4 404.56) rotate(-90) scale(0.8 1)" x="0" y="3.87" class="s" font-size="10.8" font-weight="bold" stroke="#000" stroke-width="0.25" text-anchor="middle">20</text>
<text transform="translate(284.1 381.52) rotate(-90) scale(0.8 1)" x="0" y="3.87" class="s" font-size="10.8" font-weight="bold" stroke="#000" stroke-width="0.25" text-anchor="middle">40</text>
<text transform="translate(283.8 358.48) rotate(-90) scale(0.8 1)" x="0" y="3.87" class="s" font-size="10.8" font-weight="bold" stroke="#000" stroke-width="0.25" text-anchor="middle">60</text>
<text transform="translate(283.5 335.44) rotate(-90) scale(0.8 1)" x="0" y="3.87" class="s" font-size="10.8" font-weight="bold" stroke="#000" stroke-width="0.25" text-anchor="middle">80</text>
<text transform="translate(283.2 311.2) rotate(-90) scale(0.7 1)" x="0" y="3.87" class="s" font-size="10.8" font-weight="bold" stroke="#000" stroke-width="0.25" text-anchor="middle">100</text>
<text transform="translate(297.9 442.5) scale(0.84 1)" class="s" font-size="9.5" font-weight="bold" stroke="#000" stroke-width="0.25" text-anchor="end">10</text>
<text transform="translate(299.3 437.6) scale(0.84 1)" class="s" font-size="9.1" font-weight="bold" stroke="#000" stroke-width="0.25">0</text>
<text transform="translate(352.95 442.22) scale(0.84 1)" class="s" font-size="9.5" font-weight="bold" stroke="#000" stroke-width="0.25" text-anchor="end">10</text>
<text transform="translate(354.75 437.32) scale(0.84 1)" class="s" font-size="9.1" font-weight="bold" stroke="#000" stroke-width="0.25">1</text>
<text transform="translate(406.71 441.95) scale(0.84 1)" class="s" font-size="9.5" font-weight="bold" stroke="#000" stroke-width="0.25" text-anchor="end">10</text>
<text transform="translate(408.11 437.05) scale(0.84 1)" class="s" font-size="9.1" font-weight="bold" stroke="#000" stroke-width="0.25">2</text>
<text transform="translate(460.47 441.67) scale(0.84 1)" class="s" font-size="9.5" font-weight="bold" stroke="#000" stroke-width="0.25" text-anchor="end">10</text>
<text transform="translate(461.87 436.77) scale(0.84 1)" class="s" font-size="9.1" font-weight="bold" stroke="#000" stroke-width="0.25">3</text>
<text transform="translate(513.8 441.4) scale(0.84 1)" class="s" font-size="9.5" font-weight="bold" stroke="#000" stroke-width="0.25" text-anchor="end">10</text>
<text transform="translate(515.2 436.5) scale(0.84 1)" class="s" font-size="9.1" font-weight="bold" stroke="#000" stroke-width="0.25">4</text>
<path d="M297 423.5 297.52 421.02 298.7 420 299.89 419.41 300.44 416.39 300.8 416.9 301.59 417.37 301.97 415.02 303 414 303.46 413.61 304.85 412.93 305 411.7 305.55 412.15 306.15 407.75 307.1 406.4 307.78 405.19 309.2 401.2 309.75 400.27 310.63 397.74 311.3 396 312.62 390.86 312.9 390.7 313.9 385.5 314.9 380.2 315.5 375 316.6 375.44 317.1 369.86 317.9 370.2 318.04 368.64 319.2 366 320.07 365.2 320.4 361.8 320.8 360.41 321.3 357 321.65 354.44 322.1 353.4 322.6 349 323 345 323.6 338 324.3 342 324.96 337.27 325.6 339 325.89 336.13 326.6 333 327.6 328.5 328.8 331.01 329 331 329.32 326.99 329.87 332.27 330.5 329.5 330.88 331.05 332 336 332.78 335.55 333.5 338 334.11 337.08 335 336 336 343 337 349 338 355 338.5 356.67 339.5 362 340.31 364.59 341 370 342 378.38 342.5 378 342.8 379.32 344 386 344.54 389.35 345.5 394 346.61 397.25 347.28 399.89 347.5 402 348.25 405.61 348.87 407.26 349.5 409 350.34 410.71 351.07 413.51 352 414 352.91 416.61 354.22 415.39 355 418 355.99 418.37 356.45 418.89 357.55 421.9 358 421.5 359.27 422.87 359.93 423.26 360.47 422.11 361.93 422.45 362 423.5 362.15 423.25 363.05 423.31 363.97 423.22 365 423.45 365.66 423.66 366.76 424.54 367.31 423.51 368.07 424.81 369.02 423.13 370 424 370.98 424.1 371.47 424.47 372.58 424.68 373.73 425.03 374.4 424.09 374.93 424.55 375.81 424.59 376.74 424.21 378.06 425.25 378.42 424.64 379.47 423.85 380.3 424.76 381.15 424.8 382 424.35 382.85 424.69 383.7 424.2 384.55 424.25 385.4 425.14 386.25 424.9 387.1 424.33 387.95 425 388.8 425.03 389.65 425.18 390.5 424.77 391.35 424.67 392.2 424.54 393.05 425.54 393.9 425.96 394.75 425.01 395.6 425.86 396.45 425.34 397.3 425.23 398.15 425.76 399 425.54 400 425.5 400.7 426.24 401.55 425.43 402.4 426.07 403.25 425.69 404.1 425 404.95 425.71 405.8 425.55 406.65 425.31 407.5 425 408.35 426.21 409.2 426.2 410.05 425.7 410.9 426.12 411.75 426.23 412.6 425.61 413.45 426.5 414.3 425.19 415.15 425.49 416 425.93 416.85 425.89 417.7 425.73 418.55 425.58 419.4 426.52 420 426" fill="none" stroke="#000" stroke-width="1.3" stroke-linejoin="round" stroke-linecap="round"/>
<path d="M297 365.7V422.7" fill="none" stroke="#000" stroke-width="2.0"/>
<path d="M297 422.7 298 421.45 299.05 421.65 299.6 420 300.71 418.73 301.38 420.35 302.17 419.2 302.8 419.5 303.91 417.61 304.63 418.38 305.5 416.5 306.59 416.26 306.87 412.86 308 411.7 309.23 408.87 309.88 407.82 310.1 406.4 310.89 405.31 311.7 401.2 312.44 399.34 313.3 396 313.73 394.94 315.16 393.43 315.9 390.7 316.34 390.72 317.45 386.25 318 385.5 319 380.2 319.3 375 319.66 372.3 320.3 370.2 320.89 368.81 321.5 366 322.78 363.29 322.9 361.8 323.33 360.24 324.2 357 325.29 354.2 325.4 353.4 325.6 349 325.8 345 326.2 340 326.7 334 327.3 327.2 327.68 330.3 328.5 330 329.5 328.5 330.25 328.05 331 328.5 332 332 332.92 331.78 333.6 334 334.48 333.73 335.52 335.87 335.7 333.5 335.94 338.27 336.7 341 337.8 346.2 338.8 351.4 339.79 355.84 340.4 359.8 341.18 360.29 342 366.1 342.5 373.4 343.23 375.92 344.08 379.84 344.6 383.3 345.37 388.62 346.12 390.67 346.7 393.1 346.88 394.58 348.2 398.65 348.9 401.6 349.87 405.5 350.7 409.16 351 410 351.46 410.6 352.56 413.06 353.1 414.9 353.8 415.26 354.65 417.57 355.9 417.7 356.43 418.54 357.19 420.06 358.36 421.14 358.7 422 359.26 422.26 360.21 423.01 360.45 423.95 361.5 423.4 362.63 422.89 363 423.07 364.47 423.87 365.18 422.86 366.17 423.43 366.46 423.72 367.62 423.32 368.73 423.77 369.22 423 370 423 370.83 423.13 371.58 422.88 372.76 423.89 373.41 422.73 374.37 423.01 375.12 422.48 376.32 423.79 377 423.5 378.07 423.15 378.51 423.1 379.45 423.69 380.24 424.08 381.43 424.82 382.28 423.27 382.69 423.68 383.71 424.04 384.2 424.98 385.4 424.25 386.25 424.15 387.1 424.27 387.95 424.54 388.8 424.96 389.65 425.01 390 425 390.5 425.37 391.35 424.3 392.2 425.39 393.05 425.38 393.9 424.37 394.75 425.63 395.6 425.14 396.45 424.51 397.3 425.32 398.15 424.66 399 425.13 399.85 425.49 400.7 425.75 401.55 425.73 402 425.3 402.4 425.21 403.25 424.59 404.1 424.97 404.95 425.39 405.8 425.6 406.65 425.32 407.5 424.78 408.35 425.07 409.2 424.75 410.05 425.21 410.9 424.53 411.75 425.18 412.6 425.55 413.45 424.71 414.3 425.7 415 425.2 416 423.59 416.7 423.8 417.7 424.98 418.5 425.4 419.4 424.87 420.25 425.25 421.1 425.52 421.95 425.66 422.8 424.72 423.65 425.48 424.5 424.73 425.35 425.45 426.2 425.27 427.05 425.53 427.9 424.95 428.75 425.25 429.6 424.89 430.45 425.4 431.3 425.7 432.15 425.63 433 425.3 433.85 425.86 435 425.4 435.55 425.29 436.4 425.12 437.3 424 438.1 424.82 439 425.4 439.8 425.51 440.65 426.07 441 426" fill="none" stroke="#000" stroke-width="2.9" stroke-linejoin="round" stroke-linecap="round"/>
<text transform="translate(410.64 345.1) scale(0.952 1)" class="r" font-size="16.8">VIT13 (CD2R)</text>
<text transform="translate(139.63 471) scale(0.982 1)" class="r" font-size="24.0">mean fluorescence intensity</text>
<text transform="translate(20.9 311.27) rotate(-91.1) scale(1.004 1)" class="r" font-size="23.4">relative cell number</text>
</svg>
</body></html>
